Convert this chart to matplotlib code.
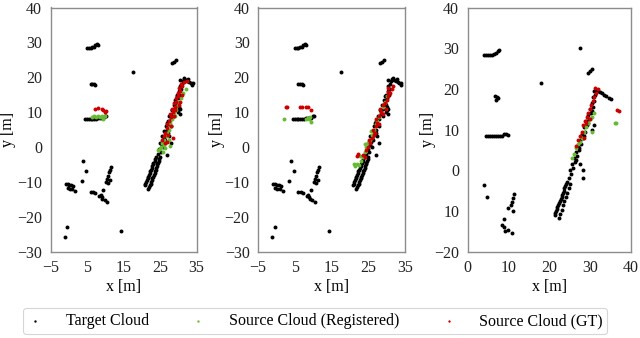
import matplotlib
matplotlib.use("Agg")
import matplotlib.pyplot as plt

plt.rcParams['font.family'] = ['Liberation Serif', 'DejaVu Serif']

# ---- target cloud (panels 1 and 2 share the same scan) ----
tgt_x = [5, 5.5, 6, 6.5, 7, 7.3, 7.8, 8,
         17.5,
         6, 6.5, 7, 7.3,
         4.5, 5, 5.5, 6, 6.5, 7, 7.5, 8, 8.5, 9, 9.5, 10, 10.2,
         -0.8, -0.3, 0.2, 0.7, 1.2, -0.3, 0.3, 1, 1.8,
         4, 4.7, 3.5,
         6, 6.6, 7.2,
         8.3, 8.7, 9, 9.2, 9.8, 9.5,
         10.2, 10.5, 10.7, 11, 11.3, 11.6, 11.2, 10.8,
         10.5, -1.1, -0.4, 14.3,
         20.8, 21.2, 21.6, 22, 22.3, 22.7, 23, 23.5, 23.8,
         21.8, 22.2, 22.5, 22.9, 23.3, 23.6, 24, 24.3, 24.6, 25,
         21.0, 21.4, 21.8, 22.2, 22.5, 22.9, 23.2, 23.7,
         22.0, 22.4, 22.7, 23.1, 23.5, 23.8, 24.2, 24.5, 24.8,
         24.5, 25.2, 24.8, 25.5, 25, 25.8, 26, 25.5, 26.5, 26.2, 27, 26.7,
         27.5, 27.2, 28, 27.6, 28.5, 28.2, 29, 28.7, 29.5, 29.2, 30, 29.7,
         30.3, 30.8, 30.5, 31, 31.2, 30.5, 31.5, 32, 32.5, 33, 33.5, 34, 32.8,
         25.9, 26.4, 27.1, 27.9, 28.9, 29.9, 30.6, 26.9, 28.4, 29.6,
         29.8, 30.2, 30, 27.5, 28, 30.5, 30.5, 31.7, 33.8,
         27, 28.3, 28.8, 29.3]
tgt_y = [28.5, 28.5, 28.5, 28.6, 28.8, 29.2, 29.5, 29.3,
         21.5,
         18, 18, 18, 17.9,
         8, 8, 8, 8, 8, 8, 8.1, 8.2, 8.3, 8.3, 8.4, 8.8, 9,
         -10.5, -10.6, -10.8, -11, -11.2, -11.8, -12, -12.1, -12.5,
         -4, -6.9, -9.8,
         -12.8, -13, -13.2,
         -14, -13.8, -14.5, -15, -15.3, -12.3,
         -10, -9.2, -8.3, -7.3, -6.5, -5.7, -9.5, -10.3,
         -15.7, -25.8, -23, -24.2,
         -11, -10, -9, -8, -7, -6, -5, -4, -3,
         -12, -11, -10, -9, -8, -7, -6, -5, -4, -3,
         -10.5, -9.5, -8.5, -7.5, -6.5, -5.5, -4.5, -3.5,
         -11.5, -10.5, -9.5, -8.5, -7.5, -6.5, -5.5, -4.5, -3.5,
         -2, -1.5, -0.5, 0.5, 1, 1.5, 2.5, 3, 3.5, 4.5, 5, 6,
         6.5, 7.5, 8, 9, 9.5, 10.5, 11, 12, 12.5, 13.5, 14, 15,
         16, 16.5, 17.5, 18, 19, 19.3, 19.5, 19.2, 18.8, 18.5, 18.3, 18.2, 19.5,
         0, 2, 4, 6, 9, 12, 15, 7, 10.5, 14.5,
         10, 11.5, 10.5, 3, 1, 9.5, 11, 19.8, 17.8,
         -2.3, 24, 24.5, 25]

# ---- panel 1: registered source / ground truth ----
reg1_x = [24.5, 25, 25.3, 26, 25.8, 26.5, 27.7, 26, 26.8, 27, 27.5, 28, 27.8, 28.3,
          29, 29.5, 30, 30.3, 30.8, 31.3, 32, 27.5, 25.6, 26.3, 28.7,
          6.5, 7, 7.5, 8, 8.5, 9, 9.5, 9.8]
reg1_y = [-1, -0.5, 0, 0.5, -1.5, 1, 0.2, 2, 3, 4, 5, 6, 7, 8,
          9, 10.5, 12, 13, 14, 15.5, 16.5, 2, 1.2, -0.3, 9.5,
          8.5, 9, 8.5, 9, 8.5, 9, 8, 8.8]
gt1_x = [25.5, 26, 26.5, 27, 26.8, 27.5, 28, 27.7, 28.5, 28.3, 29, 28.8, 29.5, 29.3,
         30, 29.8, 30.5, 30.2, 31, 31.5, 32.5, 28.5, 27, 26.3, 30.5, 31, 28.8,
         27.3, 28.1, 29.1, 30.1, 30.8,
         7.3, 8, 9, 9.5, 10, 10.3]
gt1_y = [2, 3, 4, 5.5, 6.5, 7.5, 8.5, 9.5, 10, 11, 11.5, 12.5, 13, 14,
         14.5, 15.5, 16, 17, 17.5, 18.5, 19, 2.5, 1.5, 1.2, 13, 15, 9,
         3.5, 6, 10.5, 12, 18,
         11, 11.2, 11, 10.5, 10, 10.3]

# ---- panel 2 ----
reg2_x = [21, 21.5, 22, 22.5, 23, 23.5, 24, 24.5, 25, 25.5, 26, 26.5, 27, 27.5,
          28, 28.5, 29, 29.5, 30, 22.8, 24.2, 25.8,
          2, 8, 8.5, 9, 9.5, 9.2]
reg2_y = [-5, -5.5, -4.8, -5.3, -4, -3, -1.5, 0, 1, 2, 3.5, 5, 6.5, 7.5,
          8.5, 10, 11.5, 13, 14.5, -2.5, 0.8, 4.5,
          8, 8, 8.2, 8, 7.2, 8.5]
gt2_x = [22, 22.3, 23.5, 24, 24.5, 25, 25.5, 26, 26.5, 26.3, 27, 27.5, 27.2, 28,
         28.5, 28.3, 29, 29.5, 29.8, 30, 30.5, 31, 31.5, 30.5, 31.8, 26.8,
         25.3, 27.8, 28.9, 30.3,
         2.5, 3, 6.5, 7, 8, 8.5, 9.5]
gt2_y = [-2.5, -2, -2.3, -3, -1, 0, 1, 2.5, 3.5, 5, 6, 7, 8, 9,
         10, 11, 12, 12.5, 11, 13.5, 14.5, 15.5, 16.5, 17, 17.5, 4,
         2, 6.5, 9.5, 15.8,
         11.5, 11.5, 11.5, 11.5, 11.5, 11.5, 10.5]

# ---- panel 3 ----
tgt3_x = [4, 4.5, 5, 5.5, 6, 6.5, 7, 7.5, 7.8,
          17.9,
          6.7, 7.2, 7.5, 7,
          4.5, 5, 5.5, 6, 6.5, 7, 7.5, 8, 8.5, 9, 9.5, 9.8,
          4, 4.7,
          11.4, 11.2, 11, 10.7, 10, 11.2,
          9, 8.5, 9, 9.2, 9.8, 10.8,
          21.3, 21.7, 22, 22.4, 22.8, 23.2, 23.5, 23.9, 24.3,
          22.3, 22.6, 23, 23.3, 23.7, 24, 24.4, 24.8, 25.1,
          21.5, 21.9, 22.2, 22.6, 23.0, 23.4, 23.7, 24.1,
          24.8, 25.3, 25, 25.8, 25.5, 26.2, 26, 26.7, 26.5, 27.2, 27, 27.7,
          27.5, 28.2, 28, 28.7, 28.5, 29.2, 29, 29.7, 29.5, 30.2, 30, 30.7,
          30.5, 31, 30.8, 31.3, 31, 31.5, 32, 32.5, 33, 33.5, 34, 34.5, 35,
          26.6, 27.4, 28.4, 29.4, 30.4,
          28.2, 27.5, 30.5, 31, 28.2, 27.5, 29.6, 30, 30.5]
tgt3_y = [28.3, 28.3, 28.3, 28.3, 28.4, 28.5, 28.7, 29.2, 29.5,
          21.5,
          18.2, 18, 17.8, 17.2,
          8.3, 8.3, 8.3, 8.3, 8.3, 8.4, 8.4, 8.5, 8.5, 8.8, 9, 8.7,
          -3.7, -6.5,
          -5.8, -6.8, -7.8, -8.5, -9.3, -10,
          -12, -13.5, -14, -15, -14.8, -15.5,
          -11, -10, -9, -8, -7, -6, -5, -4, -3,
          -11.8, -10.8, -9.8, -8.5, -7.5, -6.5, -5.5, -4.5, -3.5,
          -10.5, -9.5, -8.5, -7.5, -6.5, -5.5, -4.5, -3.5,
          -2, -1, 0, 0.5, 1.5, 2, 3, 3.5, 4.5, 5, 6, 6.5,
          7.5, 8, 9, 9.5, 10.5, 11, 12, 12.5, 13.5, 14, 15, 15.5,
          16.5, 17, 18, 18.5, 19.5, 19.8, 19.5, 19.2, 19, 18.5, 18.2, 17.8, 17.5,
          2.5, 5.5, 8.5, 11.5, 14.5,
          0, 1.5, 10, 11, -2, 30, 24, 24.5, 25]
reg3_x = [25.5, 26, 26.5, 27, 27.5, 28, 28.5, 29, 29.5, 30, 30.5, 31, 30.5, 36, 36.4]
reg3_y = [3, 4, 5.5, 6.5, 7, 8, 9.5, 10.5, 11.5, 12.5, 13, 14, 9.5, 11.6, 11.5]
gt3_x = [26.5, 27, 27.5, 28, 28.3, 28.8, 29.2, 29.5, 30, 30.3, 30.8, 31, 31.5, 32,
         31.2, 29, 28.5, 30, 36.6, 37.1]
gt3_y = [6, 7.5, 8.5, 9.5, 11, 12, 13, 14, 15, 16, 17, 18, 19, 20,
         20.2, 11.5, 8, 12.5, 14.9, 14.6]

# axis setup per panel
x_ticks = [[-5, 5, 15, 25, 35], [-5, 5, 15, 25, 35], [0, 10, 20, 30, 40]]
x_lims = [(-5, 35), (-5, 35), (0, 40)]
y_ticks = [[-30, -20, -10, 0, 10, 20, 30, 40], [-30, -20, -10, 0, 10, 20, 30, 40],
           [-20, -10, 0, 10, 20, 30, 40]]
y_ticklabels_3 = ['\u221220', '10', '0', '10', '20', '30', '40']
y_lims = [(-30, 40), (-30, 40), (-20, 40)]

panels = [(tgt_x, tgt_y, reg1_x, reg1_y, gt1_x, gt1_y),
          (tgt_x, tgt_y, reg2_x, reg2_y, gt2_x, gt2_y),
          (tgt3_x, tgt3_y, reg3_x, reg3_y, gt3_x, gt3_y)]

# axes boxes in pixels (left, right) of a 640x338 figure, plus y-label right edge
boxes = [(50.5, 196.5), (258, 405), (467.5, 631)]
ylabel_px = [16, 225, 436]
top_px, bot_px = 7.5, 251.5

black = '#000000'
green = '#66bb33'
red = '#cc0000'

fig = plt.figure(figsize=(6.4, 3.38), dpi=100)
for i, (tx, ty, rx, ry, gx, gy) in enumerate(panels):
    l, r = boxes[i]
    ax = fig.add_axes([l / 640, 1 - bot_px / 338, (r - l) / 640, (bot_px - top_px) / 338])
    ax.scatter(tx, ty, s=8, c=black, linewidths=0, label='Target Cloud')
    ax.scatter(rx, ry, s=8, c=green, linewidths=0, label='Source Cloud (Registered)')
    ax.scatter(gx, gy, s=8, c=red, linewidths=0, label='Source Cloud (GT)')
    ax.set_xlim(*x_lims[i])
    ax.set_ylim(*y_lims[i])
    ax.set_xticks(x_ticks[i])
    ax.set_yticks(y_ticks[i])
    if i == 2:
        ax.set_yticklabels(y_ticklabels_3)
    ax.tick_params(length=0, labelsize=11.5, pad=6, colors='#222222')
    for sp in ax.spines.values():
        sp.set_color('#8c8c8c')
        sp.set_linewidth(1.0)
    ax.set_xlabel('x [m]', fontsize=11.5, labelpad=2)
    ax.set_ylabel('y [m]', fontsize=11.5)
    ax.yaxis.set_label_coords((ylabel_px[i] - l) / (r - l), 0.5)
    if i == 0:
        handles, labels = ax.get_legend_handles_labels()

leg = fig.legend(handles, labels, loc='center', bbox_to_anchor=(315 / 640, 1 - 321 / 338),
                 ncol=3, fontsize=11.5, frameon=True, handlelength=1.0, handletextpad=1.4,
                 columnspacing=2.6, borderpad=0.3, markerscale=0.6)
leg.get_frame().set_edgecolor('#cccccc')
leg.get_frame().set_linewidth(0.8)

fig.savefig('out.png', dpi=100)
